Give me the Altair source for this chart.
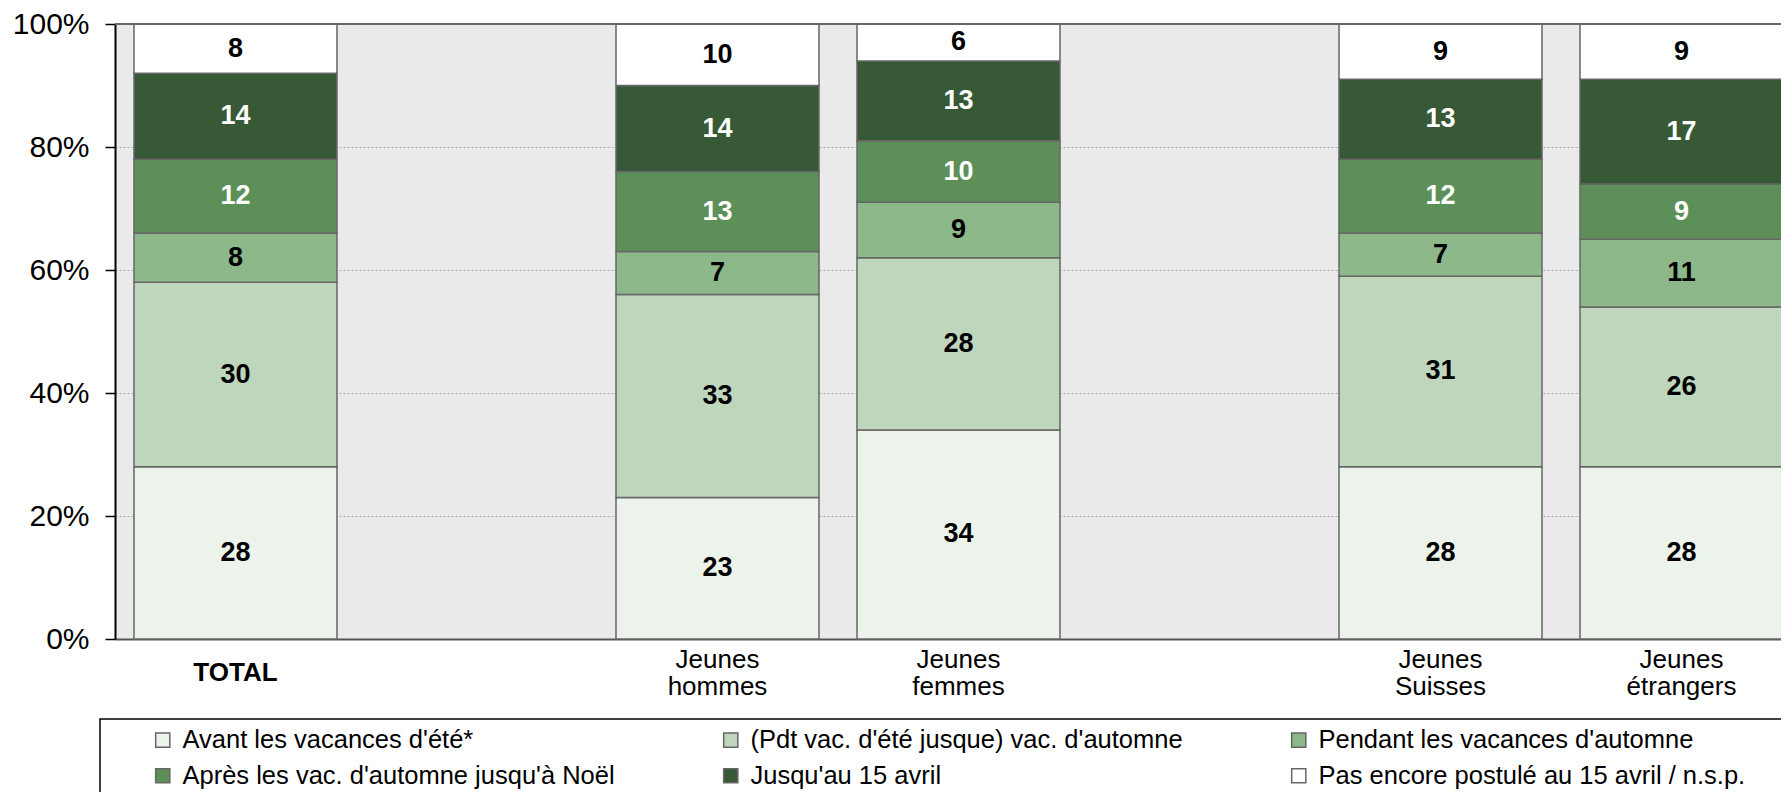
import altair as alt
import pandas as pd

# ---- data ----
categories = ["TOTAL", "Jeunes hommes", "Jeunes femmes", "Jeunes Suisses", "Jeunes étrangers"]
x_slots = ["TOTAL", " ", "Jeunes hommes", "Jeunes femmes", "  ", "Jeunes Suisses", "Jeunes étrangers"]

series = [
    "Avant les vacances d'été*",
    "(Pdt vac. d'été jusque) vac. d'automne",
    "Pendant les vacances d'automne",
    "Après les vac. d'automne jusqu'à Noël",
    "Jusqu'au 15 avril",
    "Pas encore postulé au 15 avril / n.s.p.",
]
colors = ["#EBF3EA", "#BED6BC", "#8DB889", "#5C9058", "#385935", "#FFFFFF"]

avant = [28, 23, 34, 28, 28]
pdt_ete = [30, 33, 28, 31, 26]
pendant = [8, 7, 9, 7, 11]
apres = [12, 13, 10, 12, 9]
jusquau = [14, 14, 13, 13, 17]
pas_encore = [8, 10, 6, 9, 9]

series_values = [avant, pdt_ete, pendant, apres, jusquau, pas_encore]

rows = []
for k, (s, vals) in enumerate(zip(series, series_values)):
    for c, v in zip(categories, vals):
        rows.append({"cat": c, "serie": s, "k": k, "v": v})
df = pd.DataFrame(rows)

FONT = "Liberation Sans"
W, H = 1666, 615
X_RANGE = 1687  # band range runs past the visible right edge, as in the original

x_enc = alt.X(
    "cat:N",
    sort=x_slots,
    scale=alt.Scale(domain=x_slots, range=[0, X_RANGE], paddingInner=0.1577, paddingOuter=0.0788),
    axis=alt.Axis(
        title=None,
        labelExpr="split(datum.label, ' ')",
        labelFontSize=26,
        labelFont=FONT,
        labelColor="black",
        labelAngle=0,
        labelBaseline="middle",
        labelPadding={"condition": {"test": "datum.value === 'TOTAL'", "value": 33}, "value": 20},
        labelLineHeight=27,
        labelOverlap=False,
        labelFontWeight={"condition": {"test": "datum.value === 'TOTAL'", "value": "bold"}, "value": "normal"},
        ticks=False,
        domainColor="#555555",
        domainWidth=2,
        grid=False,
    ),
)

y_axis = alt.Axis(
    title=None,
    values=[0, 20, 40, 60, 80, 100],
    labelExpr="datum.value + '%'",
    labelFontSize=30,
    labelFont=FONT,
    labelColor="black",
    labelPadding=16,
    tickSize=10,
    tickColor="black",
    tickWidth=1.5,
    domainColor="black",
    domainWidth=2,
    grid=True,
    gridColor="#aaaaaa",
    gridDash=[2, 2],
    gridWidth=1,
)
y_scale = alt.Scale(domain=[0, 100], nice=False)

legend_box = alt.Chart(pd.DataFrame({"a": [0]})).mark_rect(
    fill="white", stroke="black", strokeWidth=1.5
).encode(
    x=alt.value(-15), x2=alt.value(W + 40), y=alt.value(695), y2=alt.value(H + 220)
)

bars = alt.Chart(df).mark_bar(stroke="#666666", strokeWidth=1.5).encode(
    x=x_enc,
    y=alt.Y("v:Q", stack="zero", scale=y_scale, axis=y_axis),
    color=alt.Color(
        "serie:N",
        scale=alt.Scale(domain=series, range=colors),
        legend=alt.Legend(
            title=None,
            orient="none",
            legendX=35,
            legendY=703,
            direction="horizontal",
            columns=3,
            gridAlign="all",
            columnPadding=103,
            rowPadding=9,
            symbolType="square",
            symbolSize=200,
            symbolStrokeColor="#666666",
            symbolStrokeWidth=1.5,
            labelFont=FONT,
            labelFontSize=25.5,
            labelColor="black",
            labelLimit=800,
            labelOffset=7,
            padding=0,
        ),
    ),
    order=alt.Order("k:Q", sort="ascending"),
)

labels = alt.Chart(df).transform_stack(
    stack="v", as_=["y0", "y1"], groupby=["cat"], sort=[alt.SortField("k", order="ascending")]
).transform_calculate(
    mid="(datum.y0 + datum.y1) / 2"
).mark_text(
    font=FONT, fontSize=27, fontWeight="bold", align="center", baseline="middle"
).encode(
    x=x_enc,
    y=alt.Y("mid:Q", scale=y_scale, axis=y_axis),
    text="v:Q",
    color=alt.condition("datum.k == 3 || datum.k == 4", alt.value("white"), alt.value("black")),
)

top_line = alt.Chart(pd.DataFrame({"a": [0]})).mark_rule(color="#666666", strokeWidth=2).encode(
    y=alt.datum(100, scale=y_scale)
)

chart = alt.layer(legend_box, bars, labels, top_line).properties(
    width=W,
    height=H,
    autosize=alt.AutoSizeParams(type="none"),
    padding={"left": 107, "top": 16, "right": 0, "bottom": 153},
).configure(font=FONT).configure_view(fill="#EAEAEA", stroke=None)

chart.save("out.html", embed_options={"renderer": "svg", "actions": False})
